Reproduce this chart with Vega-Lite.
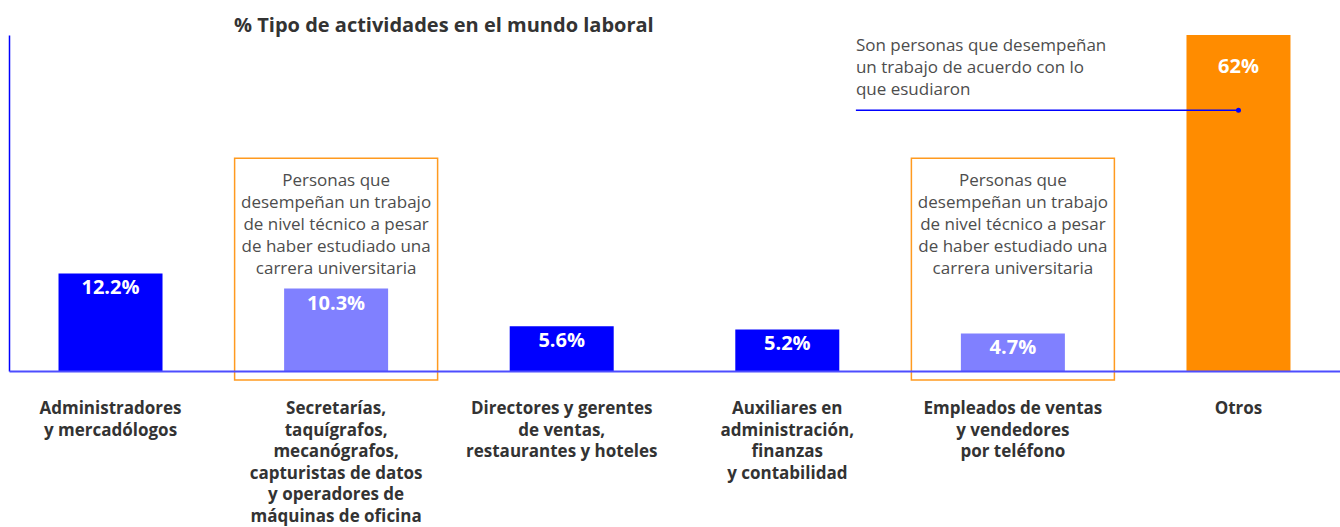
{
  "$schema": "https://vega.github.io/schema/vega-lite/v6.json",
  "autosize": "none",
  "width": 1331,
  "height": 336,
  "padding": {"left": 9, "top": 35, "right": 0, "bottom": 156},
  "background": "white",
  "config": {"view": {"stroke": null}, "font": "Open Sans"},
  "title": {"text": "% Tipo de actividades en el mundo laboral", "anchor": "start", "dx": 225, "fontSize": 20, "fontWeight": "bold", "color": "#333333", "font": "Open Sans", "offset": -1},
  "datasets": {
    "bars": [
      {"cat": "Administradores\ny mercadólogos", "pct": 12.2, "label": "12.2%", "grupo": "profesional"},
      {"cat": "Secretarías,\ntaquígrafos,\nmecanógrafos,\ncapturistas de datos\ny operadores de\nmáquinas de oficina", "pct": 10.3, "label": "10.3%", "grupo": "técnico"},
      {"cat": "Directores y gerentes\nde ventas,\nrestaurantes y hoteles", "pct": 5.6, "label": "5.6%", "grupo": "profesional"},
      {"cat": "Auxiliares en\nadministración,\nfinanzas\ny contabilidad", "pct": 5.2, "label": "5.2%", "grupo": "profesional"},
      {"cat": "Empleados de ventas\ny vendedores\npor teléfono", "pct": 4.7, "label": "4.7%", "grupo": "técnico"},
      {"cat": "Otros", "pct": 62, "label": "62%", "grupo": "otros"}
    ],
    "notes": [
      {"cat": "Secretarías,\ntaquígrafos,\nmecanógrafos,\ncapturistas de datos\ny operadores de\nmáquinas de oficina", "nota": "Personas que\ndesempeñan un trabajo\nde nivel técnico a pesar\nde haber estudiado una\ncarrera universitaria"},
      {"cat": "Empleados de ventas\ny vendedores\npor teléfono", "nota": "Personas que\ndesempeñan un trabajo\nde nivel técnico a pesar\nde haber estudiado una\ncarrera universitaria"}
    ]
  },
  "layer": [
    {
      "data": {"name": "notes"},
      "mark": {"type": "rect", "width": 203, "fill": null, "stroke": "#FF9A1F", "strokeWidth": 1.5, "y2Offset": 9},
      "encoding": {
        "x": {"field": "cat", "type": "nominal"},
        "y": {"datum": 26.6},
        "y2": {"datum": 0}
      }
    },
    {
      "data": {"name": "notes"},
      "mark": {"type": "text", "align": "center", "baseline": "top", "lineBreak": "\n", "lineHeight": 22, "fontSize": 17, "color": "#4D4D4D", "dy": 15},
      "encoding": {
        "x": {"field": "cat", "type": "nominal"},
        "y": {"datum": 26.6},
        "text": {"field": "nota"}
      }
    },
    {
      "data": {"name": "bars"},
      "mark": {"type": "bar", "width": 104},
      "encoding": {
        "x": {"field": "cat", "type": "nominal",
          "scale": {"type": "point", "padding": 0.45, "domain": [
            "Administradores\ny mercadólogos",
            "Secretarías,\ntaquígrafos,\nmecanógrafos,\ncapturistas de datos\ny operadores de\nmáquinas de oficina",
            "Directores y gerentes\nde ventas,\nrestaurantes y hoteles",
            "Auxiliares en\nadministración,\nfinanzas\ny contabilidad",
            "Empleados de ventas\ny vendedores\npor teléfono",
            "Otros"]},
          "axis": {"title": null, "labels": false, "ticks": false, "domainColor": "#4D4DFF", "domainWidth": 2, "grid": false}},
        "y": {"field": "pct", "type": "quantitative",
          "scale": {"domain": [0, 42], "clamp": true, "nice": false},
          "axis": {"title": null, "labels": false, "ticks": false, "grid": false, "domainColor": "#0000FF", "domainWidth": 1.5}},
        "color": {"field": "grupo", "type": "nominal", "legend": null,
          "scale": {"domain": ["profesional", "técnico", "otros"], "range": ["#0000FF", "#8080FF", "#FF8C00"]}}
      }
    },
    {
      "data": {"name": "bars"},
      "transform": [{"filter": "datum.grupo != 'otros'"}],
      "mark": {"type": "text", "align": "center", "baseline": "top", "fontSize": 20, "fontWeight": "bold", "color": "white", "dy": 5},
      "encoding": {
        "x": {"field": "cat", "type": "nominal"},
        "y": {"field": "pct", "type": "quantitative"},
        "text": {"field": "label"}
      }
    },
    {
      "data": {"name": "bars"},
      "transform": [{"filter": "datum.grupo == 'otros'"}],
      "mark": {"type": "text", "align": "center", "baseline": "top", "fontSize": 20, "fontWeight": "bold", "color": "white", "dy": 22},
      "encoding": {
        "x": {"field": "cat", "type": "nominal"},
        "y": {"field": "pct", "type": "quantitative"},
        "text": {"field": "label"}
      }
    },
    {
      "data": {"name": "bars"},
      "mark": {"type": "text", "align": "center", "baseline": "top", "lineBreak": "\n", "lineHeight": 21.6, "fontSize": 17, "fontWeight": "bold", "color": "#333333", "dy": 30},
      "encoding": {
        "x": {"field": "cat", "type": "nominal"},
        "y": {"datum": 0},
        "text": {"field": "cat"}
      }
    },
    {
      "data": {"values": [{}]},
      "mark": {"type": "rule", "color": "#0000FF", "strokeWidth": 1.5, "xOffset": -157, "x2Offset": 0},
      "encoding": {
        "x": {"datum": "Empleados de ventas\ny vendedores\npor teléfono"},
        "x2": {"datum": "Otros"},
        "y": {"datum": 32.6}
      }
    },
    {
      "data": {"values": [{}]},
      "mark": {"type": "point", "filled": true, "color": "#0000FF", "size": 25, "opacity": 1},
      "encoding": {
        "x": {"datum": "Otros"},
        "y": {"datum": 32.6}
      }
    },
    {
      "data": {"values": [{}]},
      "mark": {"type": "text", "align": "left", "baseline": "top", "lineBreak": "\n", "lineHeight": 22, "fontSize": 17, "color": "#4D4D4D", "dx": -157, "dy": -72},
      "encoding": {
        "x": {"datum": "Empleados de ventas\ny vendedores\npor teléfono"},
        "y": {"datum": 32.6},
        "text": {"value": "Son personas que desempeñan\nun trabajo de acuerdo con lo\nque esudiaron"}
      }
    }
  ]
}
